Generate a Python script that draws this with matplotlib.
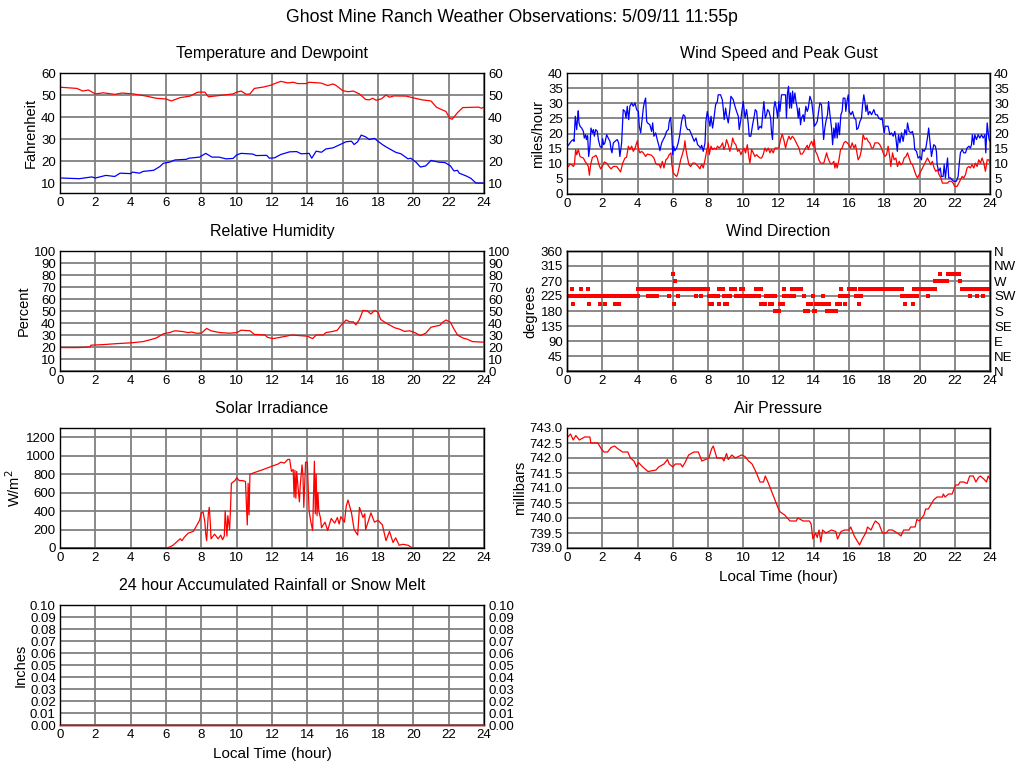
import numpy as np
import matplotlib
matplotlib.use("Agg")
import matplotlib.pyplot as plt
from matplotlib.ticker import FormatStrFormatter

plt.rcParams['font.family'] = ['Liberation Sans', 'DejaVu Sans']

# ---------------- data ----------------
hours_ticks = list(range(0, 25, 2))

temp_t = [0.0, 0.1, 0.95, 1.3, 1.6, 2.0, 2.45, 3.1, 3.5, 4.15, 4.9, 5.45, 6.0, 6.3, 6.8, 7.35, 7.8, 8.2, 8.4,
          9.05, 9.8, 10.0, 10.25, 10.55, 10.75, 11.0, 11.5, 11.95, 12.25, 12.5, 12.9, 13.2, 13.45, 13.95, 14.1,
          14.8, 15.15, 15.45, 15.6, 16.0, 16.3, 16.6, 16.95, 17.3, 17.5, 17.7, 17.9, 18.2, 18.45, 18.65, 18.9,
          19.6, 19.95, 20.5, 21.0, 21.3, 21.65, 21.85, 22.05, 22.2, 22.5, 22.8, 23.7, 23.85, 24.0]
temp_v = [53.5, 53.5, 53.0, 51.8, 52.3, 50.5, 51.0, 50.3, 50.9, 50.5, 49.5, 48.5, 48.2, 47.3, 48.8, 49.5, 51.3, 51.3, 49.2,
          49.8, 50.5, 51.3, 51.8, 50.3, 50.5, 53.0, 53.6, 54.5, 55.5, 56.2, 55.5, 55.8, 55.2, 55.2, 55.8,
          55.4, 54.3, 55.0, 54.5, 52.0, 51.5, 51.8, 50.5, 48.0, 47.8, 48.5, 47.6, 48.3, 50.0, 49.0, 49.6,
          49.5, 48.8, 47.8, 47.3, 44.5, 43.2, 42.5, 39.5, 39.0, 42.0, 44.3, 44.5, 44.0, 44.5]

dew_t = [0.1, 1.1, 1.8, 2.0, 2.6, 3.1, 3.4, 4.0, 4.1, 4.5, 4.7, 5.3, 5.65, 5.85, 6.2, 6.5, 7.15, 7.3, 7.9, 8.25,
         8.6, 9.0, 9.4, 9.8, 10.0, 10.25, 10.9, 11.1, 11.7, 11.85, 12.15, 12.5, 13.0, 13.4, 13.65, 14.1, 14.25,
         14.5, 14.8, 15.05, 15.45, 15.8, 16.2, 16.5, 16.65, 16.85, 17.05, 17.3, 17.5, 17.8, 18.0, 18.25, 18.55,
         19.0, 19.3, 19.7, 19.85, 20.15, 20.4, 20.7, 21.0, 21.45, 21.8, 22.1, 22.3, 22.5, 22.6, 23.0, 23.25,
         23.55, 24.0]
dew_v = [12.3, 12.0, 12.8, 12.3, 13.5, 13.0, 14.5, 14.3, 15.0, 14.5, 15.3, 15.8, 17.5, 19.0, 19.5, 20.5, 20.8, 21.3, 21.8, 23.5,
         21.8, 21.8, 21.0, 21.2, 22.8, 23.5, 23.2, 22.5, 22.6, 21.3, 21.5, 23.0, 24.2, 24.3, 23.3, 23.5, 21.3,
         24.5, 24.0, 25.5, 26.0, 27.3, 28.8, 29.0, 27.5, 28.8, 31.8, 31.0, 29.8, 30.3, 29.0, 27.5, 26.0,
         24.0, 23.3, 21.0, 21.3, 19.5, 17.3, 17.8, 20.3, 19.5, 19.3, 17.8, 15.5, 15.8, 14.5, 13.2, 12.2,
         10.0, 10.0]

gust_t = [0.08, 0.17, 0.26, 0.36, 0.4, 0.47, 0.5, 0.55, 0.6, 0.64, 0.68, 0.74, 0.83, 0.93, 0.98, 1.06, 1.1, 1.17,
          1.23, 1.3, 1.36, 1.44, 1.5, 1.55, 1.63, 1.72, 1.78, 1.87, 1.97, 2.02, 2.08, 2.15, 2.25, 2.34, 2.44, 2.5,
          2.55, 2.63, 2.76, 2.85, 2.93, 3.0, 3.1, 3.19, 3.29, 3.35, 3.42, 3.5, 3.57, 3.67, 3.76, 3.86, 3.95, 4.05,
          4.1, 4.18, 4.23, 4.33, 4.4, 4.46, 4.52, 4.57, 4.7, 4.8, 4.86, 4.93, 5.03, 5.12, 5.22, 5.27, 5.37, 5.46,
          5.56, 5.65, 5.75, 5.8, 5.88, 5.94, 6.0, 6.05, 6.12, 6.22, 6.31, 6.4, 6.5, 6.6, 6.69, 6.75, 6.84, 6.94,
          7.03, 7.1, 7.22, 7.32, 7.41, 7.5, 7.58, 7.64, 7.73, 7.83, 7.88, 7.96, 8.03, 8.11, 8.17, 8.26, 8.34, 8.43,
          8.53, 8.58, 8.71, 8.81, 8.87, 8.92, 9.0, 9.05, 9.15, 9.24, 9.3, 9.43, 9.53, 9.62, 9.72, 9.77, 9.85, 9.92,
          10.0, 10.1, 10.19, 10.28, 10.34, 10.43, 10.53, 10.62, 10.68, 10.76, 10.85, 10.95, 11.04, 11.1, 11.17,
          11.25, 11.32, 11.38, 11.46, 11.55, 11.6, 11.66, 11.74, 11.8, 11.89, 11.95, 12.02, 12.08, 12.17, 12.3,
          12.4, 12.45, 12.51, 12.57, 12.63, 12.68, 12.74, 12.8, 12.85, 12.93, 12.99, 13.06, 13.12, 13.18, 13.25,
          13.3, 13.4, 13.46, 13.55, 13.63, 13.69, 13.78, 13.88, 13.97, 14.03, 14.1, 14.2, 14.29, 14.35, 14.44,
          14.5, 14.56, 14.63, 14.69, 14.78, 14.84, 14.92, 15.01, 15.07, 15.14, 15.2, 15.26, 15.33, 15.39, 15.46,
          15.54, 15.61, 15.67, 15.77, 15.82, 15.9, 15.96, 16.01, 16.11, 16.2, 16.3, 16.39, 16.44, 16.52, 16.62,
          16.71, 16.77, 16.84, 16.9, 16.96, 17.03, 17.09, 17.18, 17.28, 17.41, 17.5, 17.6, 17.69, 17.81, 17.88,
          17.94, 18.0, 18.05, 18.15, 18.22, 18.32, 18.41, 18.51, 18.6, 18.66, 18.74, 18.81, 18.89, 18.98, 19.07,
          19.17, 19.26, 19.32, 19.41, 19.51, 19.6, 19.68, 19.73, 19.83, 19.92, 20.02, 20.11, 20.17, 20.26, 20.36,
          20.45, 20.52, 20.6, 20.68, 20.73, 20.81, 20.9, 20.96, 21.0, 21.09, 21.18, 21.24, 21.34, 21.4, 21.47,
          21.53, 21.59, 21.66, 21.76, 21.85, 21.94, 22.09, 22.19, 22.25, 22.32, 22.42, 22.51, 22.61, 22.7, 22.8,
          22.89, 22.95, 23.0, 23.08, 23.14, 23.23, 23.33, 23.42, 23.52, 23.61, 23.71, 23.76, 23.84, 23.9, 23.95,
          24.0]
gust_v = [16.1, 16.9, 17.6, 18.0, 17.4, 25.7, 24.0, 21.3, 25.1, 27.5, 23.5, 22.4, 21.8, 20.7, 18.5, 19.6, 18.0, 19.3,
          12.4, 15.8, 21.8, 20.2, 21.3, 19.1, 21.3, 20.7, 18.0, 15.8, 15.2, 18.3, 16.3, 16.9, 19.6, 18.5, 17.4, 14.7,
          13.6, 16.9, 17.6, 18.0, 16.9, 12.4, 16.9, 27.9, 27.3, 25.1, 29.0, 24.6, 29.0, 30.1, 29.0, 30.1, 27.9, 27.3,
          22.4, 20.2, 22.9, 28.4, 30.6, 31.7, 24.0, 23.5, 22.9, 20.7, 23.5, 19.1, 20.2, 18.0, 15.8, 14.3, 16.9, 18.0,
          19.1, 20.7, 21.3, 24.0, 25.3, 20.2, 13.0, 15.8, 14.3, 15.2, 16.9, 19.6, 24.0, 26.2, 25.7, 22.4, 21.3, 21.3,
          20.2, 19.1, 17.4, 18.5, 16.3, 15.8, 15.2, 16.1, 14.1, 16.9, 24.0, 27.3, 25.1, 22.4, 25.7, 21.8, 25.1, 29.5,
          30.6, 32.8, 32.8, 31.2, 27.9, 24.6, 28.4, 26.2, 23.5, 27.9, 32.3, 31.2, 29.0, 27.3, 25.7, 21.3, 24.0, 27.3,
          30.6, 25.1, 27.9, 23.5, 19.1, 19.1, 22.9, 25.7, 27.9, 27.3, 21.3, 22.4, 21.8, 26.2, 30.6,
          25.1, 26.2, 27.9, 27.3, 25.1, 20.7, 18.0, 28.4, 30.6, 27.9, 25.1, 30.6, 27.3, 32.8, 32.8,
          32.8, 25.1, 33.4, 35.6, 28.4, 33.4, 28.4, 34.0, 30.1, 33.4, 30.6, 28.4, 25.1, 28.4, 22.9,
          25.1, 26.2, 24.0, 29.0, 27.3, 28.4, 32.3, 30.6, 26.2, 22.4, 22.9, 24.0, 27.9, 30.1, 29.5,
          24.0, 18.0, 21.8, 24.0, 26.2, 30.6, 26.2, 21.8, 16.3, 21.8, 18.5, 23.5, 18.5, 23.5, 19.6,
          26.2, 27.3, 31.7, 31.7, 27.3, 31.2, 32.8, 27.3, 26.2, 27.3, 25.1, 24.6, 21.3, 21.8, 24.0,
          25.1, 29.5, 32.8, 30.6, 27.3, 29.5, 26.2, 27.3, 26.2, 27.9, 26.2, 26.2, 25.1, 24.6, 25.1,
          22.4, 20.2, 22.4, 22.4, 22.4, 19.6, 20.2, 19.1, 20.7, 18.5, 14.1, 19.6, 16.9, 20.2, 17.4,
          21.3, 19.6, 23.5, 20.7, 20.2, 20.7, 18.5, 14.7, 14.1, 11.9, 12.4, 11.3, 14.7, 14.1, 15.2,
          18.5, 21.8, 16.9, 12.4, 14.1, 16.3, 15.8, 14.1, 9.7, 7.5, 8.6, 5.8, 5.8, 9.7, 5.3,
          8.6, 11.9, 5.3, 5.3, 4.7, 4.2, 4.2, 5.8, 9.7, 13.6, 14.7, 13.6, 13.6, 15.2, 15.8,
          15.2, 16.3, 19.6, 16.3, 19.6, 18.0, 19.6, 18.5, 19.6, 18.5, 19.6, 13.6, 23.5, 20.2, 18.0,
          17.4]

wind_t = [0.08, 0.17, 0.26, 0.36, 0.42, 0.49, 0.55, 0.64, 0.74, 0.83, 0.93, 1.02, 1.1, 1.21, 1.27, 1.34, 1.44,
          1.55, 1.64, 1.72, 1.81, 1.91, 2.0, 2.12, 2.25, 2.38, 2.5, 2.63, 2.82, 2.95, 3.04, 3.16, 3.29, 3.38,
          3.48, 3.57, 3.67, 3.76, 3.86, 3.99, 4.06, 4.14, 4.23, 4.33, 4.46, 4.56, 4.67, 4.8, 4.93, 5.03, 5.12,
          5.24, 5.31, 5.41, 5.5, 5.61, 5.71, 5.8, 5.9, 5.95, 6.03, 6.12, 6.22, 6.28, 6.37, 6.45, 6.54, 6.64,
          6.69, 6.75, 6.82, 6.92, 7.01, 7.13, 7.26, 7.35, 7.45, 7.54, 7.64, 7.73, 7.83, 7.92, 8.02, 8.07, 8.17,
          8.26, 8.36, 8.45, 8.54, 8.64, 8.73, 8.83, 8.9, 8.98, 9.05, 9.15, 9.24, 9.34, 9.4, 9.49, 9.58, 9.68,
          9.77, 9.87, 9.94, 10.04, 10.13, 10.23, 10.32, 10.38, 10.47, 10.57, 10.66, 10.76, 10.85, 10.95, 11.04,
          11.13, 11.23, 11.32, 11.42, 11.51, 11.6, 11.7, 11.8, 11.89, 12.02, 12.12, 12.21, 12.3, 12.4, 12.49,
          12.59, 12.68, 12.78, 12.87, 12.97, 13.06, 13.16, 13.25, 13.35, 13.44, 13.54, 13.63, 13.69, 13.78,
          13.88, 13.97, 14.03, 14.1, 14.2, 14.29, 14.39, 14.48, 14.57, 14.67, 14.73, 14.78, 14.88, 14.97, 15.07,
          15.14, 15.2, 15.26, 15.33, 15.43, 15.52, 15.61, 15.71, 15.8, 15.9, 15.99, 16.09, 16.18, 16.28, 16.37,
          16.46, 16.52, 16.62, 16.71, 16.8, 16.9, 17.0, 17.09, 17.18, 17.28, 17.37, 17.47, 17.56, 17.65, 17.75,
          17.84, 17.94, 18.03, 18.13, 18.22, 18.32, 18.37, 18.47, 18.56, 18.66, 18.75, 18.85, 18.94, 19.04,
          19.13, 19.23, 19.32, 19.41, 19.51, 19.6, 19.7, 19.79, 19.89, 19.98, 20.07, 20.17, 20.26, 20.36, 20.45,
          20.55, 20.64, 20.73, 20.83, 20.92, 21.02, 21.11, 21.21, 21.3, 21.44, 21.59, 21.68, 21.81, 21.91, 22.0,
          22.13, 22.23, 22.32, 22.42, 22.51, 22.61, 22.7, 22.8, 22.89, 22.98, 23.08, 23.17, 23.27, 23.36, 23.46,
          23.55, 23.65, 23.74, 23.84, 23.93, 24.0]
wind_v = [9.1, 9.9, 9.7, 9.1, 9.7, 14.7, 13.0, 14.7, 12.4, 12.1, 11.9, 10.8, 10.2, 9.1, 6.2, 9.7, 12.1,
          12.4, 12.8, 11.9, 9.7, 8.3, 9.1, 10.6, 10.2, 9.1, 8.3, 9.1, 9.1, 8.0, 7.3, 10.2, 11.9, 12.1,
          15.8, 14.7, 15.8, 14.1, 15.2, 17.6, 14.7, 13.6, 14.1, 13.6, 12.4, 13.2, 13.0, 12.8, 11.9, 10.2, 9.7,
          9.7, 8.6, 10.8, 8.6, 11.3, 11.9, 13.0, 13.6, 9.7, 6.9, 6.4, 5.8, 6.6, 9.1, 11.3, 13.0, 15.2,
          17.6, 14.7, 12.4, 9.7, 9.1, 10.2, 10.2, 9.7, 9.1, 8.3, 9.9, 8.6, 11.3, 14.1, 16.9, 13.0, 15.8,
          14.7, 15.2, 14.7, 15.8, 15.2, 15.8, 16.9, 14.7, 15.8, 18.0, 16.3, 14.1, 16.3, 18.5, 16.9, 16.3, 14.1,
          14.7, 13.0, 14.1, 15.2, 13.6, 16.3, 12.1, 10.2, 14.7, 13.6, 12.4, 13.0, 12.4, 11.9, 11.9,
          13.0, 15.2, 14.1, 15.2, 13.6, 14.7, 13.6, 15.2, 15.2, 15.2, 18.0, 19.8, 18.0, 15.2, 17.4,
          19.1, 18.0, 19.1, 18.5, 17.4, 16.3, 15.2, 13.2, 13.2, 14.1, 15.2, 16.1, 14.7, 16.3,
          17.4, 15.8, 18.0, 14.1, 13.0, 11.3, 10.2, 10.2, 10.2, 12.4, 13.6, 12.4, 10.8, 9.9, 10.2,
          10.8, 8.6, 10.2, 8.6, 11.3, 14.7, 15.2, 16.9, 17.4, 16.9, 16.3, 15.2, 16.9, 15.2, 16.3,
          13.2, 11.3, 12.4, 14.7, 19.6, 18.0, 18.5, 17.4, 16.9, 15.2, 15.2, 16.9, 16.9, 16.9, 16.3,
          15.2, 13.6, 12.4, 13.0, 15.8, 11.9, 9.1, 13.6, 11.3, 11.9, 9.1, 10.8, 9.7, 10.2,
          11.9, 12.4, 13.6, 11.9, 10.2, 9.7, 8.0, 6.4, 5.3, 6.4, 7.5, 8.6, 9.7, 10.8, 11.9,
          10.8, 9.7, 10.8, 8.6, 7.5, 8.0, 6.4, 5.3, 3.6, 3.6, 3.6, 4.2, 4.2, 3.6, 2.5,
          2.5, 3.6, 4.7, 5.8, 5.3, 6.4, 8.6, 9.1, 8.6, 9.7, 8.6, 10.2, 9.1, 11.3, 10.2,
          11.9, 10.2, 7.5, 11.3, 11.3, 10.2]

rh_t = [0.1, 1.0, 1.7, 1.75, 2.45, 3.2, 4.05, 4.7, 5.1, 5.45, 5.85, 6.2, 6.5, 6.9, 7.25, 7.45, 7.7, 8.0, 8.3,
        8.55, 9.05, 9.6, 10.0, 10.25, 10.75, 11.0, 11.6, 11.75, 12.05, 12.45, 12.8, 13.1, 13.55, 14.0, 14.3,
        14.5, 14.9, 15.05, 15.45, 15.7, 15.9, 16.2, 16.4, 16.6, 16.75, 16.95, 17.15, 17.4, 17.6, 17.8, 18.0,
        18.15, 18.45, 18.95, 19.2, 19.5, 19.8, 20.15, 20.4, 20.7, 21.0, 21.3, 21.5, 21.65, 21.85, 22.1, 22.3,
        22.5, 22.8, 23.05, 23.35, 24.0]
rh_v = [19.5, 19.5, 20.0, 21.5, 22.0, 22.8, 23.5, 24.5, 26.0, 27.5, 31.0, 32.0, 33.5, 33.0, 32.0, 32.5, 31.5, 31.5, 35.5,
        33.5, 32.0, 31.5, 32.0, 34.0, 33.5, 30.5, 30.0, 28.0, 27.0, 28.0, 29.0, 30.0, 29.5, 29.0, 27.0,
        30.0, 30.0, 32.0, 33.0, 34.0, 38.0, 42.5, 41.0, 41.0, 38.5, 43.0, 50.5, 50.0, 47.5, 50.5, 49.0,
        43.0, 40.0, 36.0, 35.0, 33.0, 33.5, 31.5, 29.5, 31.5, 36.5, 37.5, 38.0, 40.5, 42.5, 40.5, 35.0,
        30.0, 27.5, 26.5, 24.5, 24.0]

dir_run_start = [0.0, 4.0, 6.15, 8.05, 8.6, 8.9, 9.3, 9.6, 9.85, 10.0, 10.75, 11.0, 11.3, 11.8, 12.1, 12.3, 12.75,
                 13.5, 13.7, 14.0, 14.15, 14.8, 14.95, 15.3, 15.6, 16.0, 16.4, 16.65, 19.0, 19.7, 20.9, 21.6, 22.4]
dir_run_end = [4.0, 6.0, 8.05, 8.6, 8.9, 9.3, 9.6, 9.85, 10.0, 10.75, 11.0, 11.3, 11.8, 12.1, 12.3, 12.75, 13.3,
               13.7, 13.9, 14.15, 14.7, 14.95, 15.3, 15.5, 16.0, 16.4, 16.65, 19.0, 19.7, 20.9, 21.6, 22.3, 24.0]
dir_run_value = [225, 247.5, 247.5, 225, 247.5, 225, 247.5, 225, 247.5, 225, 247.5, 202.5, 225, 180, 202.5, 225, 247.5,
                 180, 202.5, 180, 202.5, 202.5, 180, 202.5, 225, 247.5, 225, 247.5, 225, 247.5, 270, 292.5, 247.5]
dir_pt_t = [0.3, 0.35, 0.8, 1.2, 1.25, 1.85, 2.15, 2.75, 2.95, 4.6, 4.85, 4.95, 5.1, 5.8, 6.0, 6.05, 6.15, 6.3,
            7.3, 7.6, 8.1, 8.25, 8.6, 8.95, 9.05, 10.0, 10.9, 11.5, 11.65, 12.3, 12.9, 13.45, 13.95, 14.5, 14.75,
            15.5, 15.55, 15.75, 16.55, 16.7, 19.15, 19.2, 19.65, 19.85, 20.5, 21.15, 22.3, 22.85, 23.25, 23.6]
dir_pt_v = [247.5, 202.5, 247.5, 247.5, 202.5, 202.5, 202.5, 202.5, 202.5, 225, 225, 225, 225, 225, 292.5, 202.5, 270, 225,
            225, 225, 202.5, 202.5, 202.5, 202.5, 202.5, 247.5, 225, 202.5, 202.5, 247.5, 225, 225, 225, 225, 180,
            225, 247.5, 202.5, 202.5, 225, 202.5, 202.5, 202.5, 225, 225, 292.5, 270, 225, 225, 225]
dir_labels = ['N', 'NE', 'E', 'SE', 'S', 'SW', 'W', 'NW', 'N']

sol_t = [0.0, 6.0, 6.2, 6.4, 6.8, 6.9, 7.05, 7.25, 7.55, 7.9, 8.0, 8.1, 8.2, 8.25, 8.3, 8.4, 8.45, 8.5, 8.55,
         8.75, 8.95, 9.1, 9.2, 9.3, 9.35, 9.45, 9.5, 9.6, 9.65, 9.7, 9.9, 10.0, 10.15, 10.35, 10.5, 10.55, 10.6,
         10.65, 10.7, 10.75, 10.9, 11.5, 12.05, 12.35, 12.5, 12.7, 12.9, 13.0, 13.1, 13.2, 13.25, 13.3, 13.35,
         13.4, 13.5, 13.55, 13.6, 13.7, 13.75, 13.8, 13.9, 14.0, 14.05, 14.1, 14.2, 14.3, 14.4, 14.45, 14.5,
         14.55, 14.6, 14.65, 14.75, 14.8, 15.0, 15.15, 15.35, 15.55, 15.7, 15.8, 15.9, 16.1, 16.2, 16.3, 16.5,
         16.65, 16.85, 16.95, 17.15, 17.25, 17.3, 17.6, 17.8, 18.0, 18.25, 18.45, 18.65, 18.85, 19.0, 19.2,
         19.4, 19.7, 19.95, 24.0]
sol_v = [0, 0, 10, 30, 100, 80, 120, 160, 180, 300, 380, 390, 280, 150, 80, 380, 440, 300, 100,
         150, 100, 140, 90, 130, 400, 130, 350, 200, 420, 700, 730, 760, 730, 730, 720, 480, 250,
         700, 360, 800, 810, 850, 890, 910, 930, 920, 960, 960, 830, 850, 550, 840, 540,
         830, 600, 500, 680, 900, 800, 440, 930, 930, 650, 400, 280, 190, 940, 370, 800,
         350, 600, 400, 320, 220, 280, 190, 320, 270, 330, 260, 340, 280, 450, 520, 380,
         200, 140, 440, 330, 370, 200, 380, 280, 300, 250, 80, 180, 60, 110, 30,
         40, 30, 0, 0]

pres_t = [0.05, 0.2, 0.35, 0.5, 0.7, 1.0, 1.3, 1.35, 1.75, 1.95, 2.1, 2.3, 2.5, 2.7, 2.9, 3.15, 3.45, 3.6, 3.8,
          3.95, 4.05, 4.3, 4.6, 5.05, 5.2, 5.5, 5.7, 5.8, 6.0, 6.15, 6.45, 6.55, 6.7, 6.9, 7.2, 7.45, 7.65, 8.05,
          8.2, 8.3, 8.5, 8.8, 8.9, 9.05, 9.15, 9.35, 9.55, 9.9, 10.1, 10.3, 10.5, 10.75, 10.95, 11.15, 11.25,
          11.4, 11.6, 11.8, 12.0, 12.1, 12.35, 12.65, 13.0, 13.1, 13.4, 13.75, 13.85, 13.95, 14.1, 14.2, 14.3,
          14.4, 14.5, 14.7, 15.0, 15.25, 15.35, 15.55, 15.75, 16.0, 16.1, 16.3, 16.5, 16.6, 16.75, 16.95, 17.05,
          17.25, 17.4, 17.5, 17.7, 17.9, 18.1, 18.25, 18.45, 18.75, 18.95, 19.1, 19.4, 19.5, 19.75, 19.85, 20.0,
          20.25, 20.35, 20.5, 20.8, 21.0, 21.3, 21.35, 21.45, 21.65, 21.85, 22.05, 22.2, 22.3, 22.5, 22.7, 22.85,
          23.05, 23.2, 23.35, 23.45, 23.65, 23.8, 23.9, 24.0]
pres_v = [742.7, 742.8, 742.6, 742.75, 742.6, 742.7, 742.7, 742.5, 742.5, 742.3, 742.2, 742.2, 742.35, 742.4, 742.3, 742.2, 742.2, 742.0, 741.9,
          741.7, 741.85, 741.7, 741.55, 741.6, 741.7, 741.8, 741.95, 741.8, 741.7, 741.8, 741.8, 741.7, 741.85, 742.1, 742.2, 742.2, 741.9, 742.0,
          742.3, 742.4, 742.0, 742.0, 741.9, 742.15, 741.95, 742.1, 742.0, 742.1, 742.05, 741.9, 741.8, 741.5, 741.2, 741.2, 741.4,
          741.2, 740.9, 740.6, 740.3, 740.2, 740.1, 739.9, 739.9, 740.0, 739.9, 739.9, 739.8, 739.3, 739.5, 739.35, 739.6,
          739.2, 739.6, 739.5, 739.6, 739.55, 739.3, 739.55, 739.6, 739.6, 739.7, 739.4, 739.2, 739.1, 739.3, 739.5, 739.7,
          739.6, 739.8, 739.9, 739.8, 739.5, 739.5, 739.6, 739.6, 739.5, 739.4, 739.6, 739.6, 739.7, 739.7, 739.95, 739.9,
          740.1, 740.3, 740.3, 740.6, 740.7, 740.7, 740.8, 740.7, 740.8, 740.8, 741.1, 741.1, 741.2, 741.2, 741.15, 741.4,
          741.4, 741.2, 741.35, 741.4, 741.3, 741.2, 741.4, 741.3]

rain_t = [0.0, 24.0]
rain_v = [0.0, 0.0]

# ---------------- layout ----------------
W, H = 1024, 768
fig = plt.figure(figsize=(W / 100, H / 100), dpi=100)
fig.patch.set_facecolor('white')

def make_ax(x0, y0, x1, y1):
    return fig.add_axes([x0 / W, 1 - y1 / H, (x1 - x0) / W, (y1 - y0) / H])

TICK_FS = 9.5
TITLE_FS = 11.5
LAB_FS = 10.5
RED = '#ff0000'
BLUE = '#0000ff'
GRID = '#808080'

def style(ax, title, ylabel, yticks, ylim, right=False, fmt=None):
    ax.set_xlim(0, 24)
    ax.set_ylim(*ylim)
    ax.set_xticks(hours_ticks)
    ax.set_yticks(yticks)
    if fmt:
        ax.yaxis.set_major_formatter(FormatStrFormatter(fmt))
    ax.grid(True, color=GRID, linewidth=1.3)
    ax.set_axisbelow(True)
    ax.tick_params(length=0, labelsize=TICK_FS, pad=3)
    if right:
        ax.tick_params(axis='y', labelright=True)
    for s in ax.spines.values():
        s.set_linewidth(1.0)
        s.set_color('black')
    ax.set_title(title, fontsize=TITLE_FS, pad=11)
    ax.set_ylabel(ylabel, fontsize=LAB_FS, labelpad=2)

fig.text(0.5, 1 - 18 / H, 'Ghost Mine Ranch Weather Observations: 5/09/11 11:55p',
         ha='center', va='center', fontsize=12.7)

# Temperature
ax1 = make_ax(60, 73, 484, 193)
style(ax1, 'Temperature and Dewpoint', 'Fahrenheit', list(range(10, 61, 10)), (5.5, 60), right=True)
ax1.plot(temp_t, temp_v, color=RED, lw=0.9)
ax1.plot(dew_t, dew_v, color=BLUE, lw=0.9)

# Wind speed
ax2 = make_ax(567, 73, 990, 194)
style(ax2, 'Wind Speed and Peak Gust', 'miles/hour', list(range(0, 41, 5)), (0, 40), right=True)
ax2.plot(gust_t, gust_v, color=BLUE, lw=0.9)
ax2.plot(wind_t, wind_v, color=RED, lw=0.9)

# Humidity
ax3 = make_ax(60, 251, 484, 371)
style(ax3, 'Relative Humidity', 'Percent', list(range(0, 101, 10)), (0, 100), right=True)
ax3.plot(rh_t, rh_v, color=RED, lw=0.9)

# Wind direction
ax4 = make_ax(567, 251, 990, 371)
style(ax4, 'Wind Direction', 'degrees', list(range(0, 361, 45)), (0, 360))
dt, dv = [], []
for s, e, v in zip(dir_run_start, dir_run_end, dir_run_value):
    tt = np.arange(s, e + 1e-9, 1 / 12)
    dt.extend(tt)
    dv.extend([v] * len(tt))
dt.extend(dir_pt_t)
dv.extend(dir_pt_v)
ax4.plot(dt, dv, linestyle='none', marker='s', markersize=2.3, color=RED, markeredgewidth=0)
ax4r = ax4.twinx()
ax4r.set_ylim(0, 360)
ax4r.set_yticks(list(range(0, 361, 45)))
ax4r.set_yticklabels(dir_labels)
ax4r.tick_params(length=0, labelsize=TICK_FS, pad=3)
for s in ax4r.spines.values():
    s.set_linewidth(1.0)

# Solar
ax5 = make_ax(60, 428, 484, 548)
style(ax5, 'Solar Irradiance', 'W/m$^2$', list(range(0, 1201, 200)), (0, 1300))
ax5.plot(sol_t, sol_v, color=RED, lw=0.9)

# Pressure
ax6 = make_ax(567, 428, 990, 548)
style(ax6, 'Air Pressure', 'millibars', [739 + 0.5 * i for i in range(9)], (739, 743), fmt='%.1f')
ax6.plot(pres_t, pres_v, color=RED, lw=0.9)
ax6.set_xlabel('Local Time (hour)', fontsize=LAB_FS + 0.5, labelpad=4)

# Rain
ax7 = make_ax(60, 605, 484, 725)
style(ax7, '24 hour Accumulated Rainfall or Snow Melt', 'Inches', [0.01 * i for i in range(11)], (0, 0.1),
      right=True, fmt='%.2f')
ax7.plot(rain_t, rain_v, color=RED, lw=1.0, clip_on=False, zorder=3)
ax7.set_xlabel('Local Time (hour)', fontsize=LAB_FS + 0.5, labelpad=4)

fig.savefig('out.png', dpi=100)
